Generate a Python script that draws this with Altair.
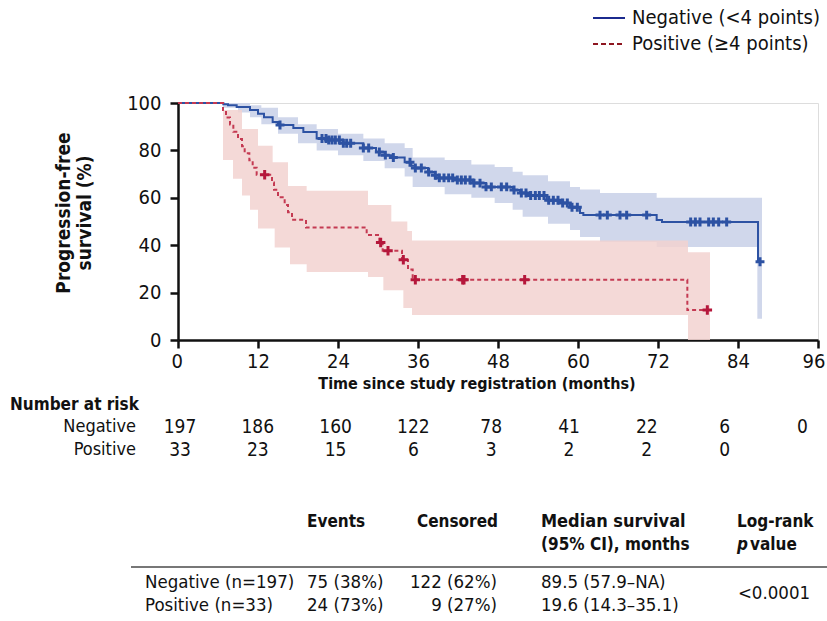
import altair as alt
import pandas as pd
import numpy as np

FONT = "DejaVu Sans Condensed, Liberation Sans Narrow, sans-serif"

# ---- Negative (<4 points) KM curve (step-after) ----
neg_t = [0, 6.8, 7.5, 8.8, 10.8, 12.0, 12.9, 14.2, 15.0, 17.3, 18.8, 20.8, 22.3, 24.8, 27.8,
         29.7, 31.0, 32.2, 34.0, 35.0, 35.6, 37.5, 38.5, 39.2, 41.8, 44.2, 46.2, 50.2, 51.3,
         52.7, 55.3, 57.3, 58.8, 60.3, 60.8, 71.8, 72.6, 87.0, 87.3]
neg_s = [100, 99.5, 99, 98.3, 97, 95.5, 94, 92, 90.7, 89.5, 87.8, 85, 84.4, 83, 81,
         79.3, 78, 77, 75, 73.5, 72.6, 70.9, 69.5, 68.4, 67.5, 66.2, 64.6, 63.3, 62,
         61, 59, 57.8, 56, 53.6, 52.7, 50.6, 49.8, 33, 33]
neg_ci_t = [6.75, 9.0, 10.8, 12.5, 15.0, 18.0, 20.8, 24.0, 27.8, 31.0, 34.0, 35.2, 40.0, 44.0,
            47.5, 50.2, 51.7, 55.5, 58.8, 60.3, 63.3, 71.8, 86.9, 87.6]
neg_ci_up = [100, 100, 99, 98, 94, 91, 89, 87, 85, 83, 81, 77, 76, 74,
             73, 71, 69.5, 67, 64.6, 63.5, 62, 60, 60, 60]
neg_ci_lo = [98, 96, 94, 91, 87, 83, 80, 78, 75.5, 72.5, 69, 64.6, 61.5, 60,
             57.8, 55, 52, 49, 46.4, 43.5, 41.4, 39.2, 9, 9]
neg_cens = [15.3, 21.6, 22.2, 22.6, 23.1, 23.6, 24.2, 24.8, 25.3, 25.9, 27.8, 28.6, 30.2, 31.1,
            32.3, 34.8, 35.6, 36.5, 37.6, 38.6, 39.2, 39.9, 40.6, 41.2, 41.9, 42.5, 43.1, 43.8,
            44.4, 45.3, 46.2, 47.0, 48.5, 49.3, 50.4, 51.5, 52.2, 52.9, 53.6, 54.2, 54.9, 55.6,
            56.3, 57.0, 57.7, 58.4, 59.1, 59.9, 63.3, 64.4, 66.3, 67.3, 70.3, 76.9, 77.6, 78.3,
            79.6, 80.3, 81.1, 82.3, 87.3]

# ---- Positive (>=4 points) KM curve ----
pos_t = [0, 6.75, 7.2, 7.8, 8.3, 9.0, 9.6, 10.0, 10.7, 11.2, 11.8, 14.1, 14.4, 15.0, 16.0,
         16.5, 17.1, 19.2, 28.3, 30.2, 30.7, 33.6, 34.5, 35.2, 76.4, 79.4]
pos_s = [100, 97, 93.9, 90.9, 87.9, 84.8, 81.8, 78.8, 75.8, 72.7, 69.7, 66.5, 63.4, 60.2, 57.0,
         53.9, 50.7, 47.5, 44.3, 41.1, 37.7, 33.9, 29.7, 25.4, 12.7, 12.7]
pos_ci_t = [6.75, 8.25, 9.6, 10.8, 12.0, 14.2, 14.5, 16.5, 16.8, 19.3, 28.5, 30.8, 32.0, 33.8,
            34.4, 35.1, 76.5, 79.8]
pos_ci_up = [97, 97, 89, 89, 82, 75, 75, 65, 65, 63, 57, 57, 50, 50, 46, 42, 37, 37]
pos_ci_lo = [76, 68, 61, 55, 47, 47, 39, 39, 32, 28.7, 26.6, 21, 21, 13.5, 13.5, 10.5, 0, 0]
pos_cens = [13.0, 30.4, 31.5, 33.8, 35.6, 42.7, 42.9, 52.0, 79.4]

# ---- Number at risk ----
risk_months = [0, 12, 24, 36, 48, 60, 72, 84, 96]
risk_neg = ["197", "186", "160", "122", "78", "41", "22", "6", "0"]
risk_pos = ["33", "23", "15", "6", "3", "2", "2", "0"]

# ---- Summary table ----
tbl_groups = ["Negative (n=197)", "Positive (n=33)"]
tbl_events = ["75 (38%)", "24 (73%)"]
tbl_cens = ["122 (62%)", "9 (27%)"]
tbl_median = ["89.5 (57.9\u2013NA)", "19.6 (14.3\u201335.1)"]
tbl_p = "<0.0001"

BLUE = "#2d52a3"
BLUE_BAND = "#cdd5ea"
RED = "#c43a52"
RED_MARK = "#b5173b"
RED_BAND = "#f2d2d0"
TXT = "#111111"


def step_value(ts, ss, t):
    i = int(np.searchsorted(np.array(ts), t, side="right")) - 1
    return ss[max(i, 0)]


neg_df = pd.DataFrame({"t": neg_t, "s": neg_s})
pos_df = pd.DataFrame({"t": pos_t, "s": pos_s})
neg_ci = pd.DataFrame({"t": neg_ci_t, "up": neg_ci_up, "lo": neg_ci_lo})
pos_ci = pd.DataFrame({"t": pos_ci_t, "up": pos_ci_up, "lo": pos_ci_lo})
neg_c = pd.DataFrame({"t": neg_cens, "s": [step_value(neg_t, neg_s, c) for c in neg_cens]})
pos_c = pd.DataFrame({"t": pos_cens, "s": [step_value(pos_t, pos_s, c) for c in pos_cens]})

xsc = alt.Scale(domain=[0, 96], nice=False)
ysc = alt.Scale(domain=[0, 100], nice=False)
xax = alt.Axis(values=list(range(0, 97, 12)), title=None, grid=False, tickSize=8,
               labelFontSize=20, labelPadding=3, labelFont=FONT, labelColor=TXT,
               labelFlush=True, labelFlushOffset=7,
               domainColor="#111", tickColor="#111", domainWidth=2.5, tickWidth=2.5)
yax = alt.Axis(values=list(range(0, 101, 20)), title=None, grid=False, tickSize=8,
               labelFontSize=20, labelPadding=9, labelFont=FONT, labelColor=TXT, labelFlush=False,
               domainColor="#111", tickColor="#111", domainWidth=2.5, tickWidth=2.5)

X = alt.X("t:Q", scale=xsc, axis=xax)
Y = alt.Y("s:Q", scale=ysc, axis=yax)

band_neg = alt.Chart(neg_ci).mark_area(interpolate="step-after", color=BLUE_BAND, opacity=0.95).encode(
    x=alt.X("t:Q", scale=xsc, axis=xax), y=alt.Y("up:Q", scale=ysc, axis=yax), y2="lo:Q")
band_pos = alt.Chart(pos_ci).mark_area(interpolate="step-after", color=RED_BAND, opacity=0.85).encode(
    x=alt.X("t:Q", scale=xsc), y=alt.Y("up:Q", scale=ysc), y2="lo:Q")
line_neg = alt.Chart(neg_df).mark_line(interpolate="step-after", color=BLUE, strokeWidth=2).encode(x=X, y=Y)
line_pos = alt.Chart(pos_df).mark_line(interpolate="step-after", color=RED, strokeWidth=2,
                                       strokeDash=[4, 3]).encode(x=X, y=Y)
CROSS = "M-1,0L1,0M0,-1L0,1"
cens_neg = alt.Chart(neg_c).mark_point(shape=CROSS, size=80, color=BLUE, strokeWidth=3,
                                       filled=False, opacity=1).encode(x=X, y=Y)
cens_pos = alt.Chart(pos_c).mark_point(shape=CROSS, size=90, color=RED_MARK, strokeWidth=3,
                                       filled=False, opacity=1).encode(x=X, y=Y)

OX, OY = 178, 103
layers = [band_neg, band_pos, line_neg, line_pos, cens_neg, cens_pos]


def txt(label, x, y, align="left", bold=False, italic=False, size=19, angle=0, color=TXT):
    kw = dict(font=FONT, fontSize=size, align=align, baseline="middle", color=color)
    if bold:
        kw["fontWeight"] = "bold"
    if italic:
        kw["fontStyle"] = "italic"
    if angle:
        kw["angle"] = angle
        kw["lineBreak"] = "\n"
    return alt.Chart(pd.DataFrame({"l": [label]})).mark_text(**kw).encode(
        x=alt.value(x - OX), y=alt.value(y - OY), text="l:N")


def hline(x1, x2, y, color, width=2, dash=None):
    kw = dict(color=color, strokeWidth=width)
    if dash:
        kw["strokeDash"] = dash
    return alt.Chart(pd.DataFrame({"a": [0]})).mark_rule(**kw).encode(
        x=alt.value(x1 - OX), x2=alt.value(x2 - OX), y=alt.value(y - OY))


# legend
layers.append(hline(593, 625, 18, "#1b2a8e", 2))
layers.append(txt("Negative (<4 points)", 632, 18, size=20))
layers.append(hline(593, 625, 44, "#8e1620", 2, [5, 3]))
layers.append(txt("Positive (\u22654 points)", 632, 44, size=20))

# axis titles
layers.append(txt("Time since study registration (months)", 477, 384, align="center", bold=True, size=16))
layers.append(txt("Progression-free\nsurvival (%)", 64, 213, align="center", bold=True, angle=270))

# number at risk
layers.append(txt("Number at risk", 10, 405, bold=True, size=17))
layers.append(txt("Negative", 136, 427, align="right", size=18))
layers.append(txt("Positive", 136, 450, align="right", size=18))
for i, v in enumerate(risk_neg):
    layers.append(txt(v, 180 + i * 77.8, 427, align="center"))
for i, v in enumerate(risk_pos):
    layers.append(txt(v, 180 + i * 77.8, 450, align="center"))

# summary table
layers.append(txt("Events", 307, 522, bold=True, size=17))
layers.append(txt("Censored", 417, 522, bold=True, size=17))
layers.append(txt("Median survival", 541, 522, bold=True, size=18))
layers.append(txt("(95% CI), months", 541, 545, bold=True, size=17))
layers.append(txt("Log-rank", 737, 522, bold=True, size=17))
layers.append(txt("p", 737, 545, bold=True, italic=True, size=17))
layers.append(txt("value", 750, 545, bold=True, size=17))
layers.append(hline(131, 827, 567, "#777777", 2))
for r, yy in enumerate([582, 605]):
    layers.append(txt(tbl_groups[r], 145, yy, size=18.5))
    layers.append(txt(tbl_events[r], 307, yy, size=18.5))
    layers.append(txt(tbl_cens[r], 497, yy, align="right", size=18.5))
    layers.append(txt(tbl_median[r], 541, yy, size=18.5))
layers.append(txt(tbl_p, 774, 593, align="center", size=18.5))

chart = alt.layer(*layers).properties(
    width=640, height=237,
    autosize=alt.AutoSizeParams(type="none"),
    padding={"left": OX, "top": OY, "right": 9, "bottom": 621 - 340},
).configure_view(stroke=None).configure(background="white")

chart.save("out.html", embed_options={"renderer": "svg", "actions": False})
